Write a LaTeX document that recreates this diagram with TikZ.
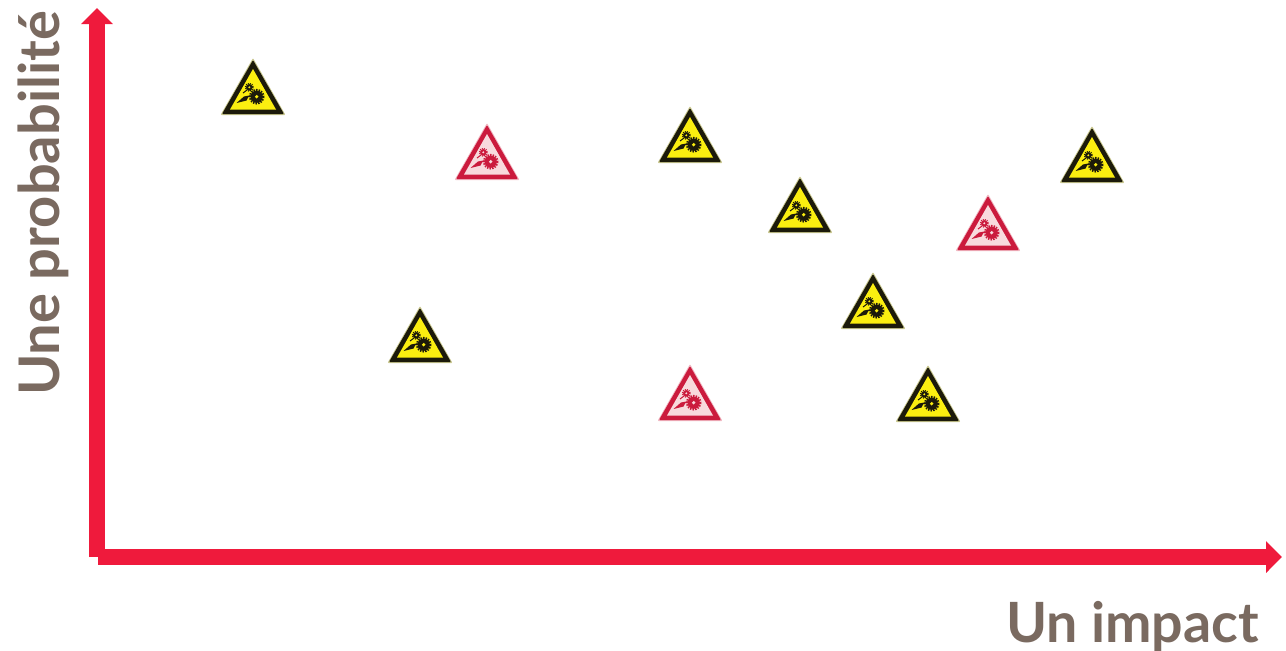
\documentclass[tikz,border=0pt]{standalone}
\usepackage{fontspec}
\setmainfont{Lato}
\usetikzlibrary{arrows.meta, positioning}
\definecolor{axisred}{HTML}{EF1A3C}
\definecolor{labelbrown}{HTML}{7A6A60}

\begin{document}
\begin{tikzpicture}[
	x=1pt, y=-1pt,
	axis_line/.style={axisred, line width=16pt, -{Triangle[length=16pt, width=31pt]}},
	axis_label/.style={inner sep=0pt, text=labelbrown, font=\fontsize{55.5}{59}\selectfont\bfseries},
	yellow_sign/.code={\definecolor{signrim}{HTML}{C9C78E}\definecolor{signedge}{HTML}{1C1A0A}\definecolor{signfill}{HTML}{FBEE10}},
	red_sign/.code={\definecolor{signrim}{HTML}{F0B8C2}\definecolor{signedge}{HTML}{CB1B3D}\definecolor{signfill}{HTML}{F8DADD}},
	warnsign/.pic={
		\fill[signrim, rounded corners=1pt] (0,-1) -- (32.5,56) -- (-32.5,56) -- cycle;
		\fill[signedge, rounded corners=1pt] (0,1) -- (31,55) -- (-31,55) -- cycle;
		\fill[signfill] (0,10) -- (23,50.5) -- (-23,50.5) -- cycle;
		\fill[signedge] (3.7,37.7) circle (6.2);
		\draw[signedge, line width=2pt, dash pattern=on 1.4pt off 1.2pt] (3.7,37.7) circle (6.8);
		\fill[signfill] (3.7,37.7) circle (1.8);
		\fill[signedge] (-3.7,28.3) circle (3.2);
		\draw[signedge, line width=1.4pt, dash pattern=on 1pt off 1pt] (-3.7,28.3) circle (3.8);
		\fill[signfill] (-3.7,28.3) circle (1.1);
		\fill[signedge] (-16.5,44) -- (-9,37.5) -- (-1.5,36) -- (-5,38.5) -- (-6.5,41.5) -- cycle;
		\draw[signedge, line width=1pt] (-10,34) -- (-6,31);
	}
	]
	
	% --- EIXOS ---
	\coordinate (origin_y) at (97,557);
	\coordinate (top_y) at (97,8);
	\coordinate (origin_x) at (98,557);
	\coordinate (end_x) at (1282,557);
	\useasboundingbox (0,0) rectangle (1286,651);
	\draw[axis_line] (origin_y) -- (top_y);
	\draw[axis_line] (origin_x) -- (end_x);
	
	% --- TITULOS ---
	\node[axis_label, rotate=90, anchor=base west, font=\fontsize{56}{59}\selectfont\bfseries] (label_y) at (59,396) {Une probabilité};
	\node[axis_label, anchor=base east] (label_x) at (1259,642) {Un impact};
	
	% --- SINAIS ---
	\pic[yellow_sign] (s1) at (253,59) {warnsign};
	\pic[yellow_sign] (s2) at (690,107) {warnsign};
	\pic[yellow_sign] (s3) at (800,177) {warnsign};
	\pic[yellow_sign] (s4) at (1092,127) {warnsign};
	\pic[yellow_sign] (s5) at (873,273) {warnsign};
	\pic[yellow_sign] (s6) at (420,307) {warnsign};
	\pic[yellow_sign] (s7) at (928,366) {warnsign};
	\pic[red_sign] (s8) at (487,124) {warnsign};
	\pic[red_sign] (s9) at (988,195) {warnsign};
	\pic[red_sign] (s10) at (690,365) {warnsign};
	
\end{tikzpicture}
\end{document}
